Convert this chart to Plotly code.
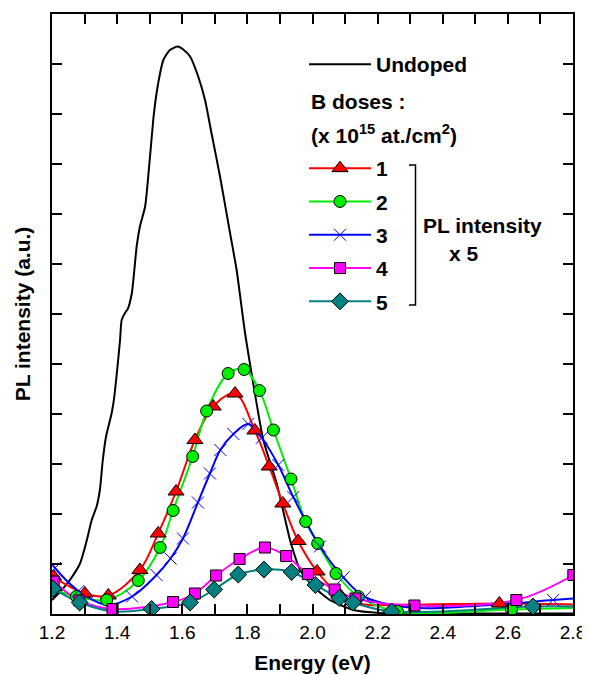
import plotly.graph_objects as go

FONT = "Liberation Sans, Arial, Helvetica, sans-serif"

# ---- Undoped (black line, no markers) ----
E0 = [1.200, 1.230, 1.255, 1.286, 1.307, 1.322, 1.337, 1.347, 1.356, 1.366, 1.383, 1.390,
      1.399, 1.409, 1.414, 1.427, 1.432, 1.445, 1.460, 1.470, 1.486, 1.501, 1.513, 1.526,
      1.542, 1.562, 1.586, 1.603, 1.624, 1.649, 1.670, 1.690, 1.716, 1.747, 1.767, 1.793,
      1.818, 1.849, 1.890, 1.921, 1.931, 1.962, 2.003, 2.053, 2.125, 2.207, 2.300, 2.800]
I0 = [0.28, 0.48, 0.68, 1.01, 1.48, 1.88, 2.15, 2.48, 3.08, 3.55, 4.01, 4.28,
      4.81, 5.48, 5.88, 6.05, 6.09, 6.41, 7.35, 7.75, 8.15, 9.15, 10.01, 10.61,
      11.08, 11.28, 11.35, 11.29, 11.15, 10.75, 10.28, 9.61, 8.75, 7.61, 6.88, 5.61,
      4.61, 3.48, 2.61, 1.75, 1.48, 0.88, 0.55, 0.28, 0.08, 0.02, 0.01, 0.01]

# ---- Dose 1 (red triangles) ----
E1 = [1.205, 1.301, 1.373, 1.470, 1.526, 1.581, 1.639, 1.695, 1.762, 1.823, 1.867,
      1.909, 1.956, 2.014, 2.081, 2.574]
I1 = [0.75, 0.41, 0.37, 0.88, 1.61, 2.45, 3.48, 4.15, 4.41, 3.67, 2.95,
      2.21, 1.46, 0.85, 0.41, 0.21]
E1_curve = [1.200, 2.150, 2.300, 2.800]
I1_curve = [0.80, 0.20, 0.19, 0.19]

# ---- Dose 2 (green circles) ----
E2 = [1.275, 1.368, 1.465, 1.532, 1.572, 1.632, 1.675, 1.741, 1.790, 1.837, 1.880,
      1.934, 1.979, 2.016, 2.072, 2.141, 2.261, 2.611]
I2 = [0.35, 0.28, 0.67, 1.33, 2.07, 3.15, 4.06, 4.81, 4.89, 4.47, 3.68,
      2.70, 1.85, 1.41, 0.81, 0.35, 0.05, 0.09]
E2_curve = [1.200, 2.800]
I2_curve = [0.50, 0.12]

# ---- Dose 3 (blue crosses) ----
E3 = [1.209, 1.281, 1.446, 1.521, 1.564, 1.602, 1.648, 1.685, 1.717, 1.757, 1.803,
      1.844, 1.895, 1.941, 2.023, 2.095, 2.161, 2.739]
I3 = [0.92, 0.46, 0.35, 0.78, 1.11, 1.51, 2.23, 2.81, 3.28, 3.60, 3.80,
      3.52, 2.98, 2.34, 1.35, 0.73, 0.34, 0.28]
E3_curve = [1.200, 1.370, 2.300, 2.500, 2.800]
I3_curve = [1.00, 0.18, 0.13, 0.16, 0.31]

# ---- Dose 4 (magenta squares) ----
E4 = [1.205, 1.284, 1.386, 1.572, 1.639, 1.704, 1.776, 1.854, 1.919, 1.986, 2.068,
      2.132, 2.313, 2.626, 2.801]
I4 = [0.65, 0.27, 0.10, 0.24, 0.41, 0.77, 1.10, 1.33, 1.16, 0.80, 0.49,
      0.31, 0.17, 0.28, 0.78]
E4_curve = [1.200]
I4_curve = [0.68]

# ---- Dose 5 (teal diamonds) ----
E5 = [1.203, 1.285, 1.506, 1.624, 1.698, 1.772, 1.851, 1.936, 2.009, 2.082, 2.124,
      2.243, 2.677]
I5 = [0.51, 0.23, 0.10, 0.23, 0.49, 0.79, 0.89, 0.84, 0.58, 0.32, 0.23,
      0.05, 0.15]
E5_curve = [1.200, 1.390, 2.800]
I5_curve = [0.52, 0.05, 0.15]

dose_labels = ["1", "2", "3", "4", "5"]
x_ticks = [1.2, 1.4, 1.6, 1.8, 2.0, 2.2, 2.4, 2.6, 2.8]

series = [
    (E1, I1, E1_curve, I1_curve, "#FF0000", "triangle-up", 14, "#000000"),
    (E2, I2, E2_curve, I2_curve, "#00EE00", "circle", 12, "#000000"),
    (E3, I3, E3_curve, I3_curve, "#0000FF", "x-thin", 12, "#0000FF"),
    (E4, I4, E4_curve, I4_curve, "#FF00FF", "square", 11, "#000000"),
    (E5, I5, E5_curve, I5_curve, "#008080", "diamond", 13, "#000000"),
]

fig = go.Figure()

fig.add_trace(go.Scatter(x=E0, y=I0, mode="lines", name="Undoped",
                         line=dict(color="black", width=2, shape="spline", smoothing=0.6),
                         legend="legend2", showlegend=True))

for (E, I, Ec, Ic, col, sym, sz, lc), lab in zip(series, dose_labels):
    pts = sorted(zip(E + Ec, I + Ic))
    fig.add_trace(go.Scatter(x=[p[0] for p in pts], y=[p[1] for p in pts], mode="lines",
                             line=dict(color=col, width=2, shape="spline", smoothing=1.0),
                             showlegend=False, hoverinfo="skip"))
for (E, I, Ec, Ic, col, sym, sz, lc), lab in zip(series, dose_labels):
    fig.add_trace(go.Scatter(x=E, y=I, mode="markers", showlegend=False,
                             marker=dict(symbol=sym, size=sz, color=col,
                                         line=dict(color=lc, width=1))))
for (E, I, Ec, Ic, col, sym, sz, lc), lab in zip(series, dose_labels):
    fig.add_trace(go.Scatter(x=[None], y=[None], mode="lines+markers", name=lab,
                             legendgroup=lab, legend="legend",
                             line=dict(color=col, width=2),
                             marker=dict(symbol=sym, size=sz, color=col,
                                         line=dict(color=lc, width=1))))

# page body has an 8px margin: figure coordinates = screen coordinates - 8
OFF = 8
L, R, T, B = 52 - OFF, 573 - OFF, 14 - OFF, 614 - OFF
W, H = 590 - OFF, 675 - OFF

def px2x(px):
    return (px - 52) / 521.0

def py2y(py):
    return (614 - py) / 600.0

bold = dict(family=FONT, size=21, color="black", weight="bold")

fig.update_layout(
    width=W, height=H,
    margin=dict(l=L, r=W - R, t=T, b=H - B, autoexpand=False),
    paper_bgcolor="white", plot_bgcolor="white",
    font=dict(family=FONT, color="black"),
    legend=dict(x=px2x(304), y=py2y(148), xanchor="left", yanchor="top",
                bgcolor="rgba(0,0,0,0)", font=bold, itemwidth=62,
                traceorder="grouped", tracegroupgap=3),
    legend2=dict(x=px2x(304), y=py2y(44), xanchor="left", yanchor="top",
                 bgcolor="rgba(0,0,0,0)", font=bold, itemwidth=62),
    xaxis=dict(range=[1.2, 2.8], tickvals=x_ticks, ticktext=[f"{v:.1f}" for v in x_ticks],
               ticks="inside", ticklen=10, tickwidth=1.5, tickcolor="black",
               minor=dict(dtick=0.1, ticks="inside", ticklen=10, tickwidth=1.5, tickcolor="black"),
               showline=True, linecolor="black", linewidth=1.5, mirror="ticks",
               showgrid=False, zeroline=False, automargin=False,
               tickfont=dict(family=FONT, size=19, color="black"),
               title=dict(text="Energy (eV)", font=dict(family=FONT, size=21, weight="bold"),
                          standoff=14)),
    yaxis=dict(range=[0, 12], dtick=1, ticks="inside", ticklen=10, tickwidth=1.5,
               tickcolor="black", showticklabels=False, automargin=False,
               showline=True, linecolor="black", linewidth=1.5, mirror="ticks",
               showgrid=False, zeroline=False,
               title=dict(text="PL intensity (a.u.)", font=dict(family=FONT, size=21, weight="bold"),
                          standoff=14)),
    annotations=[
        dict(text="B doses :", x=px2x(309), y=py2y(101), xref="paper", yref="paper",
             xanchor="left", yanchor="middle", showarrow=False, font=bold),
        dict(text="(x 10<sup>15</sup> at./cm<sup>2</sup>)", x=px2x(309), y=py2y(134),
             xref="paper", yref="paper", xanchor="left", yanchor="middle",
             showarrow=False, font=bold),
        dict(text="PL intensity", x=px2x(421), y=py2y(225), xref="paper", yref="paper",
             xanchor="left", yanchor="middle", showarrow=False, font=bold),
        dict(text="x 5", x=px2x(447), y=py2y(253), xref="paper", yref="paper",
             xanchor="left", yanchor="middle", showarrow=False, font=bold),
    ],
    shapes=[
        dict(type="path", xref="paper", yref="paper",
             path=f"M {px2x(409)},{py2y(165)} L {px2x(415.5)},{py2y(165)} "
                  f"L {px2x(415.5)},{py2y(305)} L {px2x(409)},{py2y(305)}",
             line=dict(color="black", width=1.5)),
    ],
)

fig.write_html("out.html")
